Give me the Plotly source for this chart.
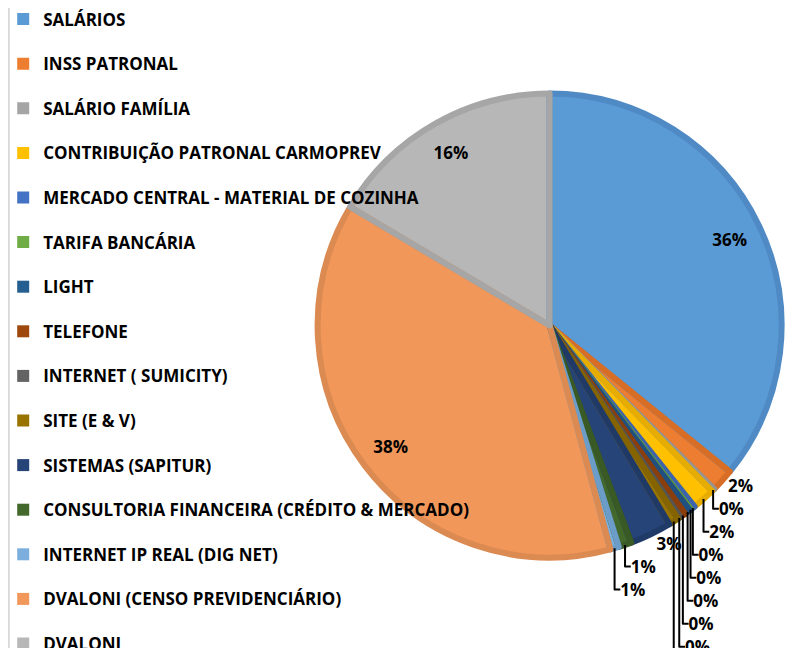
import plotly.graph_objects as go

categories = [
    "SALÁRIOS",
    "INSS PATRONAL",
    "SALÁRIO FAMÍLIA",
    "CONTRIBUIÇÃO PATRONAL CARMOPREV",
    "MERCADO CENTRAL - MATERIAL DE COZINHA",
    "TARIFA BANCÁRIA",
    "LIGHT",
    "TELEFONE",
    "INTERNET ( SUMICITY)",
    "SITE (E & V)",
    "SISTEMAS (SAPITUR)",
    "CONSULTORIA FINANCEIRA (CRÉDITO & MERCADO)",
    "INTERNET IP REAL (DIG NET)",
    "DVALONI (CENSO PREVIDENCIÁRIO)",
    "DVALONI",
]
values = [35.7, 1.6, 0.2, 1.6, 0.3, 0.1, 0.4, 0.4, 0.2, 0.7, 2.9, 0.9, 0.6, 37.6, 16.4]

colors = ["#5B9BD5", "#ED7D31", "#A5A5A5", "#FFC000", "#4472C4", "#70AD47", "#255E91",
          "#9E480E", "#636363", "#997300", "#264478", "#43682B", "#7CAFDD", "#F1975A", "#B7B7B7"]
line_colors = ["#4F8AC4", "#D86E26", "#959595", "#E6AC00", "#3B63AE", "#619A3C", "#1F5080",
               "#8A3E0C", "#555555", "#856400", "#203A68", "#395A24", "#6C9CC8", "#DB8A52", "#A6A6A6"]

# which label group each slice's percentage belongs to
# "in" = inside label, "o1"/"o2" = outside label groups (separately de-overlapped)
label_group = ["in", "o1", "o1", "o1", "o1", "o1", "o1", "o1", "o1", "o1", "o2", "o2", "o2", "in", "in"]

legend_labels = [
    f"<span style='font-size:17px;baseline-shift:6px'>{c}</span>" for c in categories
]
dom = dict(x=[0.387, 0.967], y=[0.152, 0.868])
font_txt = dict(family="Open Sans", size=17, color="black", weight="bold")
transparent = ["rgba(0,0,0,0)"] * len(values)


def base(**kw):
    return dict(labels=legend_labels, values=values, sort=False, direction="clockwise",
                rotation=0, domain=dom, **kw)


pie_fill = go.Pie(**base(marker=dict(colors=colors, line=dict(width=0)),
                         textinfo="none", hoverinfo="label+percent", showlegend=True))
pie_rim = go.Pie(**base(marker=dict(colors=transparent, line=dict(color=line_colors, width=6)),
                        textinfo="none", hoverinfo="skip", showlegend=False))
traces = [pie_fill, pie_rim]
for grp in ["o1", "o2"]:
    traces.append(go.Pie(**base(
        marker=dict(colors=transparent, line=dict(width=0)),
        texttemplate="%{percent:.0%}",
        textposition=["outside" if g == grp else "none" for g in label_group],
        textfont=font_txt, hoverinfo="skip", showlegend=False)))
traces.append(go.Pie(**base(
    hole=0.72,
    marker=dict(colors=transparent, line=dict(width=0)),
    texttemplate="%{percent:.0%}",
    textposition=["inside" if g == "in" else "none" for g in label_group],
    insidetextorientation="horizontal",
    textfont=font_txt, hoverinfo="skip", showlegend=False)))

fig = go.Figure(traces)

fig.update_layout(
    width=800,
    height=648,
    margin=dict(l=0, r=0, t=0, b=0, autoexpand=False),
    paper_bgcolor="white",
    showlegend=True,
    legend=dict(
        x=-0.006,
        y=1.025,
        xanchor="left",
        yanchor="top",
        maxheight=2000,
        font=dict(family="Open Sans", size=32, color="black", weight="bold"),
        bgcolor="rgba(0,0,0,0)",
    ),
    shapes=[dict(type="line", xref="paper", yref="paper", x0=0.001, x1=0.001, y0=0, y1=1,
                 line=dict(color="#D9D9D9", width=2))],
)

fig.write_html("out.html")
